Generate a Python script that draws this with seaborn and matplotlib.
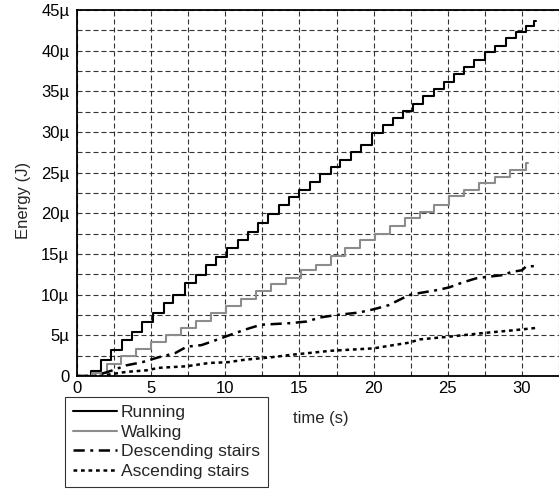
import matplotlib
matplotlib.use("Agg")
import matplotlib.pyplot as plt
import seaborn as sns
import pandas as pd

# step times (s) and cumulative energy (uJ)
run_t = [0.0, 0.95, 1.65, 2.3, 3.05, 3.7, 4.4, 5.15, 5.85, 6.5, 7.3, 8.0, 8.7, 9.4, 10.1,
         10.85, 11.5, 12.2, 12.9, 13.65, 14.3, 15.0, 15.7, 16.4, 17.1, 17.75, 18.45, 19.15,
         19.9, 20.6, 21.3, 22.0, 22.65, 23.35, 24.05, 24.75, 25.45, 26.1, 26.8, 27.5, 28.2,
         28.9, 29.6, 30.3, 30.8, 30.95]
run_e = [0.0, 0.6, 2.0, 3.2, 4.4, 5.4, 6.6, 7.7, 9.0, 10.0, 11.4, 12.4, 13.6, 14.6, 15.7,
         16.7, 17.7, 18.8, 19.9, 21.0, 22.0, 22.9, 23.8, 24.8, 25.7, 26.6, 27.5, 28.4,
         29.9, 30.8, 31.7, 32.6, 33.5, 34.4, 35.3, 36.2, 37.1, 38.0, 38.9, 39.8, 40.6,
         41.5, 42.3, 43.0, 43.6, 43.6]

walk_t = [0.0, 1.0, 2.0, 3.0, 4.0, 5.0, 6.0, 7.0, 8.05, 9.05, 10.05, 11.05, 12.05, 13.05,
          14.1, 15.1, 16.1, 17.1, 18.1, 19.1, 20.1, 21.1, 22.1, 23.1, 24.1, 25.1, 26.1,
          27.1, 28.2, 29.2, 30.25, 30.4]
walk_e = [0.0, 0.4, 1.5, 2.4, 3.3, 4.2, 5.0, 5.9, 6.8, 7.7, 8.6, 9.5, 10.4, 11.3,
          12.1, 13.0, 13.7, 14.7, 15.7, 16.7, 17.5, 18.4, 19.4, 20.2, 21.0, 22.1, 22.9,
          23.7, 24.5, 25.3, 26.2, 26.2]

desc_t = [0.0, 1.2, 2.4, 3.3, 4.4, 5.5, 6.6, 7.4, 8.4, 9.5, 10.7, 11.5, 12.4, 14.4, 15.5,
          16.4, 17.5, 19.0, 20.0, 21.0, 22.0, 22.5, 23.1, 24.4, 25.1, 26.0, 26.9, 27.7,
          28.7, 29.3, 30.0, 30.3, 30.9]
desc_e = [0.0, 0.0, 0.7, 1.3, 1.7, 2.3, 2.8, 3.6, 3.8, 4.5, 5.3, 5.8, 6.3, 6.5, 6.7,
          7.2, 7.5, 7.8, 8.2, 8.7, 9.6, 10.0, 10.2, 10.6, 10.9, 11.5, 12.0, 12.2,
          12.4, 12.8, 13.0, 13.5, 13.5]

asc_t = [0.0, 1.5, 3.3, 4.7, 5.5, 7.4, 8.9, 10.2, 11.3, 13.1, 14.4, 15.5, 17.1, 20.0,
         21.0, 22.4, 23.1, 24.9, 27.5, 29.3, 30.9]
asc_e = [0.0, 0.0, 0.5, 0.7, 1.0, 1.2, 1.6, 1.7, 2.0, 2.3, 2.6, 2.8, 3.1, 3.4,
         3.7, 4.1, 4.5, 4.8, 5.3, 5.6, 5.9]

labels = ["Running", "Walking", "Descending stairs", "Ascending stairs"]
x_ticks = [0, 5, 10, 15, 20, 25, 30]
y_ticks = [0, 5, 10, 15, 20, 25, 30, 35, 40, 45]
y_tick_labels = ["0", "5µ", "10µ", "15µ", "20µ", "25µ", "30µ", "35µ", "40µ", "45µ"]

sns.set_style("white")
plt.rcParams["font.family"] = ["Liberation Sans", "DejaVu Sans"]
fs = 12

fig = plt.figure(figsize=(5.59, 4.96), dpi=100)
ax = fig.add_axes([77 / 559, 120 / 496, 482 / 559, 366 / 496])

series = [
    (run_t, run_e, dict(color="black", linestyle="-", drawstyle="steps-post", lw=1.5)),
    (walk_t, walk_e, dict(color="0.55", linestyle="-", drawstyle="steps-post", lw=1.5)),
    (desc_t, desc_e, dict(color="black", linestyle=(0, (4.5, 2.2, 1.2, 2.2)), lw=1.8)),
    (asc_t, asc_e, dict(color="black", linestyle=(0, (1.5, 1.5)), lw=1.8)),
]
for (t, e, style), lab in zip(series, labels):
    df = pd.DataFrame({"t": t, "E": e})
    sns.lineplot(data=df, x="t", y="E", ax=ax, label=lab, estimator=None, sort=False, **style)

ax.set_xlim(0, 32.13)
ax.set_ylim(0, 45)
ax.set_xticks(x_ticks)
ax.set_xticks([2.5 + v for v in x_ticks], minor=True)
ax.set_yticks(y_ticks)
ax.set_yticklabels(y_tick_labels)
ax.set_yticks([2.5 + v for v in y_ticks[:-1]], minor=True)
ax.tick_params(which="both", direction="in", colors="black", labelsize=fs)
ax.tick_params(which="major", length=4, width=0.8)
ax.tick_params(axis="y", which="major", pad=5.5)
ax.tick_params(which="minor", length=2.5, width=0.8)
ax.grid(True, which="both", color="0.2", linestyle=(0, (4.5, 2.7)), linewidth=0.8)
ax.set_axisbelow(True)

for side in ["left", "bottom", "top"]:
    ax.spines[side].set_color("black")
    ax.spines[side].set_linewidth(1.3)
ax.spines["right"].set_visible(False)

ax.set_xlabel("time (s)", fontsize=fs)
ax.xaxis.set_label_coords(0.505, -0.095)
ax.set_ylabel("Energy (J)", fontsize=fs)
ax.yaxis.set_label_coords(-0.095, 0.48)

handles, labs = ax.get_legend_handles_labels()
ax.get_legend().remove()
leg = fig.legend(handles, labs, loc="upper left", bbox_to_anchor=(65 / 559, 1 - 397 / 496),
                 frameon=True, fancybox=False, edgecolor="black", fontsize=12.6,
                 handlelength=2.5, handletextpad=0.25, labelspacing=0.25,
                 borderpad=0.45, borderaxespad=0)
leg.get_frame().set_linewidth(0.8)

fig.savefig("out.png", dpi=100)
